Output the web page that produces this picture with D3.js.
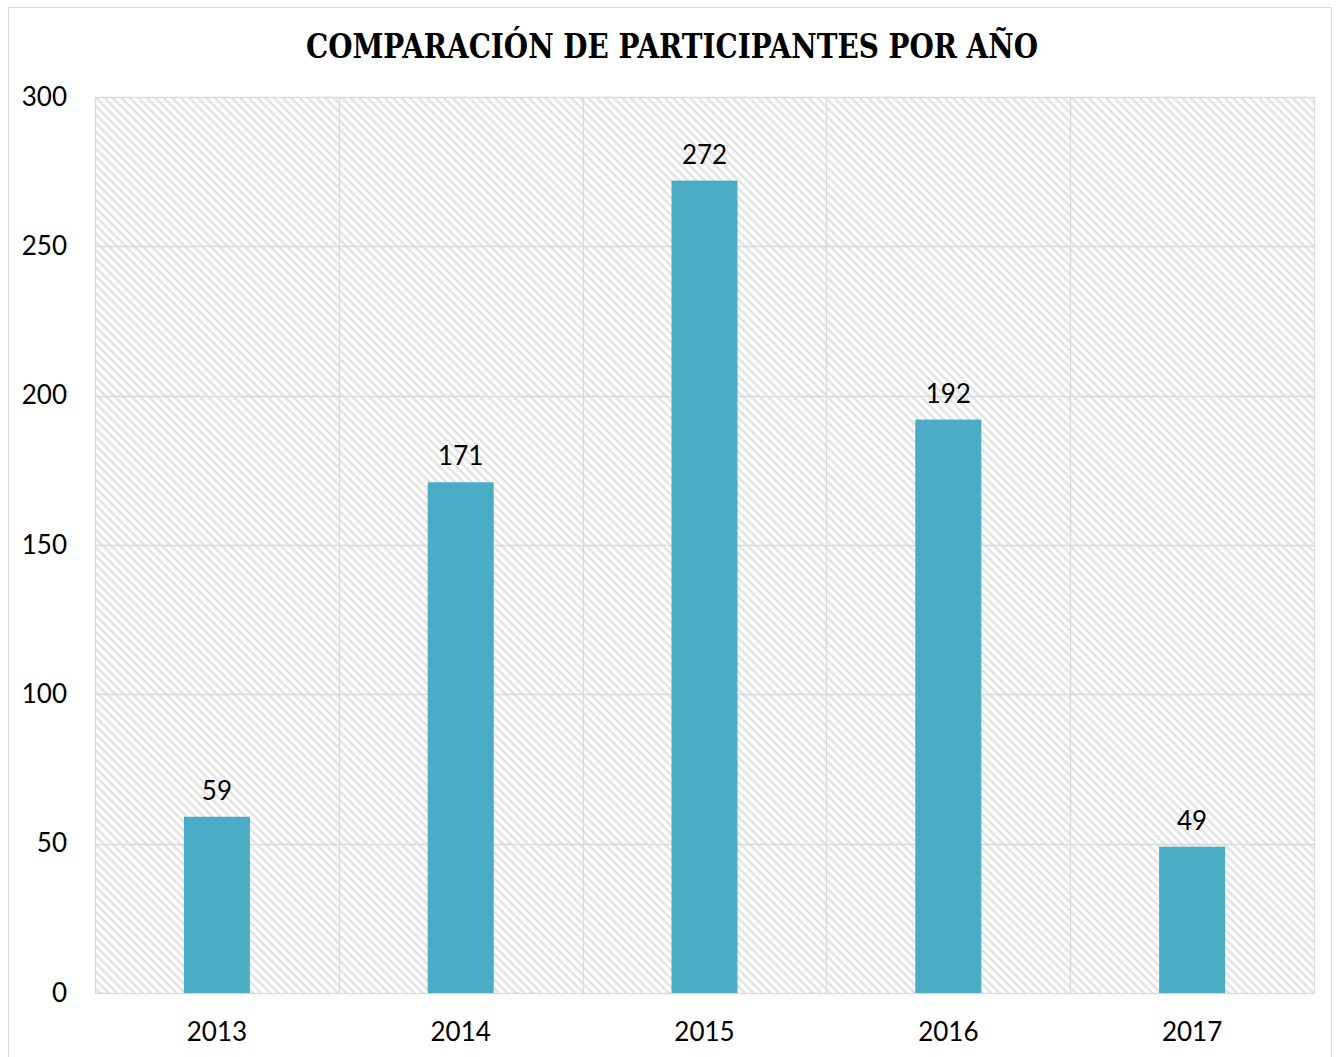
<!DOCTYPE html>
<html>
<head>
<meta charset="utf-8">
<script src="https://cdn.jsdelivr.net/npm/d3@7"></script>
<style>
  html, body { margin: 0; padding: 0; background: #fff; }
  svg { display: block; }
</style>
</head>
<body>
<script>
// Participants per year
const years = ["2013", "2014", "2015", "2016", "2017"];
const participants = [59, 171, 272, 192, 49];
const yTicks = [0, 50, 100, 150, 200, 250, 300];
const chartTitle = "COMPARACIÓN DE PARTICIPANTES POR AÑO";

const W = 1336, H = 1057;
const plot = { left: 95, top: 97, right: 1314, bottom: 993 };
const labelFont = "Lato, 'Open Sans', sans-serif";

const svg = d3.select("body").append("svg")
  .attr("width", W).attr("height", H);

// diagonal hatch (top-left to bottom-right) for the plot background
const defs = svg.append("defs");
const pat = defs.append("pattern")
  .attr("id", "hatch")
  .attr("patternUnits", "userSpaceOnUse")
  .attr("width", 6).attr("height", 6)
  .attr("patternTransform", "rotate(45)");
pat.append("rect").attr("width", 6).attr("height", 6).attr("fill", "#fff");
pat.append("rect").attr("x", 0).attr("y", 0).attr("width", 6).attr("height", 2.6)
  .attr("fill", "#e3e3e3");

// outer chart frame
svg.append("rect")
  .attr("x", 8.5).attr("y", 7.5)
  .attr("width", W - 13).attr("height", H)
  .attr("fill", "#fff").attr("stroke", "#d9d9d9").attr("stroke-width", 1);

const x = d3.scaleBand().domain(years).range([plot.left, plot.right]).paddingInner(0).paddingOuter(0);
const y = d3.scaleLinear().domain([0, 300]).range([plot.bottom, plot.top]);

// plot background
svg.append("rect")
  .attr("x", plot.left).attr("y", plot.top)
  .attr("width", plot.right - plot.left).attr("height", plot.bottom - plot.top)
  .attr("fill", "url(#hatch)");

// horizontal gridlines
svg.append("g")
  .selectAll("line").data(yTicks).join("line")
  .attr("x1", plot.left).attr("x2", plot.right)
  .attr("y1", d => Math.round(y(d)) + 0.5).attr("y2", d => Math.round(y(d)) + 0.5)
  .attr("stroke", "#d9d9d9").attr("stroke-width", 1.3);

// vertical gridlines at category boundaries
const bounds = years.map(d => x(d)).concat([x(years[years.length - 1]) + x.bandwidth()]);
svg.append("g")
  .selectAll("line").data(bounds).join("line")
  .attr("x1", d => Math.round(d) + 0.5).attr("x2", d => Math.round(d) + 0.5)
  .attr("y1", plot.top).attr("y2", plot.bottom)
  .attr("stroke", "#d9d9d9").attr("stroke-width", 1.3);

// bars
const barW = 66;
svg.append("g")
  .selectAll("rect").data(years).join("rect")
  .attr("x", d => x(d) + x.bandwidth() / 2 - barW / 2)
  .attr("y", (d, i) => y(participants[i]))
  .attr("width", barW)
  .attr("height", (d, i) => y(0) - y(participants[i]))
  .attr("fill", "#4BACC6");

// value labels
svg.append("g")
  .selectAll("text").data(years).join("text")
  .attr("x", d => x(d) + x.bandwidth() / 2)
  .attr("y", (d, i) => y(participants[i]) - 17)
  .attr("text-anchor", "middle")
  .attr("font-family", labelFont)
  .attr("font-size", 26)
  .attr("fill", "#000")
  .text((d, i) => participants[i]);

// y axis labels
const yAxis = d3.axisLeft(y).tickValues(yTicks).tickSize(0).tickPadding(28);
const gy = svg.append("g").attr("transform", `translate(${plot.left},0)`).call(yAxis);
gy.select(".domain").remove();
gy.selectAll("text")
  .attr("font-family", labelFont)
  .attr("font-size", 26).attr("fill", "#000");

// x axis labels
const xAxis = d3.axisBottom(x).tickSize(0).tickPadding(30);
const gx = svg.append("g").attr("transform", `translate(0,${plot.bottom})`).call(xAxis);
gx.select(".domain").remove();
gx.selectAll("text")
  .attr("font-family", labelFont)
  .attr("font-size", 26).attr("fill", "#000");

// title
svg.append("text")
  .attr("x", (306 + 1038) / 2).attr("y", 58)
  .attr("text-anchor", "middle")
  .attr("font-family", "'DejaVu Serif', 'Liberation Serif', serif")
  .attr("font-weight", "bold")
  .attr("font-size", 33)
  .attr("textLength", 732)
  .attr("lengthAdjust", "spacingAndGlyphs")
  .attr("fill", "#000")
  .text(chartTitle);
</script>
</body>
</html>
